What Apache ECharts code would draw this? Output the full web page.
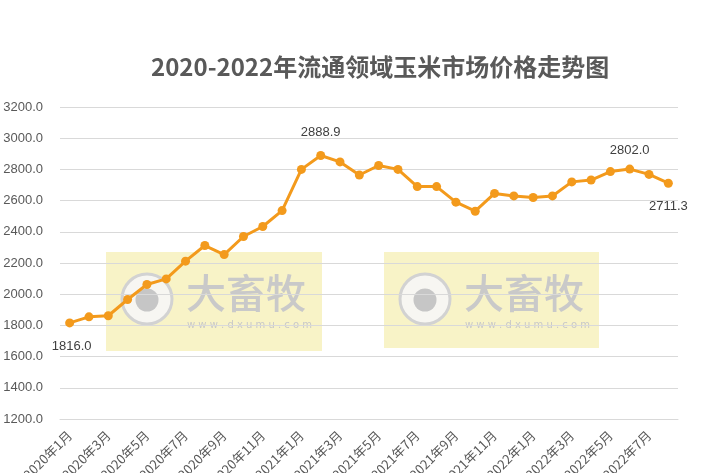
<!DOCTYPE html>
<html><head><meta charset="utf-8">
<script src="https://cdn.jsdelivr.net/npm/echarts@6/dist/echarts.min.js"></script>
<style>html,body{margin:0;padding:0;background:#fff}#c{width:720px;height:473px}</style>
</head><body><div id="c"></div>
<script>
var titleText = '2020-2022年流通领域玉米市场价格走势图';
var categories = ['2020年1月','2020年2月','2020年3月','2020年4月','2020年5月','2020年6月','2020年7月','2020年8月','2020年9月','2020年10月','2020年11月','2020年12月',
 '2021年1月','2021年2月','2021年3月','2021年4月','2021年5月','2021年6月','2021年7月','2021年8月','2021年9月','2021年10月','2021年11月','2021年12月',
 '2022年1月','2022年2月','2022年3月','2022年4月','2022年5月','2022年6月','2022年7月','2022年8月'];
var prices = [1816.0,1855,1862,1966,2062,2098,2212,2312,2254,2370,2434,2536,
 2800,2888.9,2848,2764,2825,2800,2690,2690,2590,2532,2646,2630,
 2620,2630,2720,2732,2786,2802.0,2768,2711.3];
var yTicks = {min:1200, max:3200, interval:200};
var labelled = {0:{position:'bottom',offset:[2,8]},13:{position:'top',offset:[0,-7]},29:{position:'top',offset:[0,-3]},31:{position:'bottom',offset:[0,7]}};

var data = prices.map(function(v,i){
  var it = {value:v};
  if (labelled[i]) it.label = {show:true, position:labelled[i].position, offset:labelled[i].offset};
  return it;
});

function watermark(x, y, w, h){
  return [
    {type:'rect', shape:{x:x, y:y, width:w, height:h}, style:{fill:'rgba(240,228,130,0.45)'}, z:-1},
    {type:'circle', shape:{cx:x+41, cy:y+47, r:25}, style:{fill:'rgba(246,246,246,0.9)', stroke:'#d2d2d2', lineWidth:3}, z:-1},
    {type:'circle', shape:{cx:x+41, cy:y+48, r:11.5}, style:{fill:'#c6c6c6'}, z:-1},
    {type:'text', x:x+80, y:y+21, style:{text:'大畜牧', font:'500 40px "Noto Sans CJK SC"', fill:'#c9c9c9'}, z:-1},
    {type:'text', x:x+81, y:y+68, style:{text:'w w w . d x u m u . c o m', font:'10px "DejaVu Sans"', fill:'#c8c8c8'}, z:-1}
  ];
}

var chart = echarts.init(document.getElementById('c'));
chart.setOption({
  animation:false,
  backgroundColor:'#fff',
  title:{text:titleText, left:146, top:50, textStyle:{fontFamily:'Noto Sans CJK SC', fontSize:24, fontWeight:'bold', color:'#595959'}},
  graphic: watermark(106,252,216,99).concat(watermark(384,252,215,96)),
  grid:{left:60, right:42, top:107, bottom:54, containLabel:false, outerBoundsMode:'none'},
  xAxis:{type:'category', data:categories, boundaryGap:true,
    axisLine:{show:true, lineStyle:{color:'#d9d9d9'}}, axisTick:{show:false},
    axisLabel:{interval:1, rotate:45, color:'#595959', fontSize:13, fontFamily:'Noto Sans CJK SC', margin:14}},
  yAxis:{type:'value', min:yTicks.min, max:yTicks.max, interval:yTicks.interval,
    axisLine:{show:false}, axisTick:{show:false},
    splitLine:{lineStyle:{color:'#d9d9d9', width:1}},
    axisLabel:{color:'#595959', fontSize:13, fontFamily:'Liberation Sans', margin:17, formatter:function(v){return v.toFixed(1);}}},
  series:[{type:'line', data:data, symbol:'circle', symbolSize:9,
    lineStyle:{color:'#f39a1c', width:3}, itemStyle:{color:'#f39a1c'},
    label:{show:false, color:'#404040', fontSize:13, fontFamily:'Liberation Sans', formatter:function(p){return p.value.toFixed(1);}},
    z:3}]
});
</script></body></html>
